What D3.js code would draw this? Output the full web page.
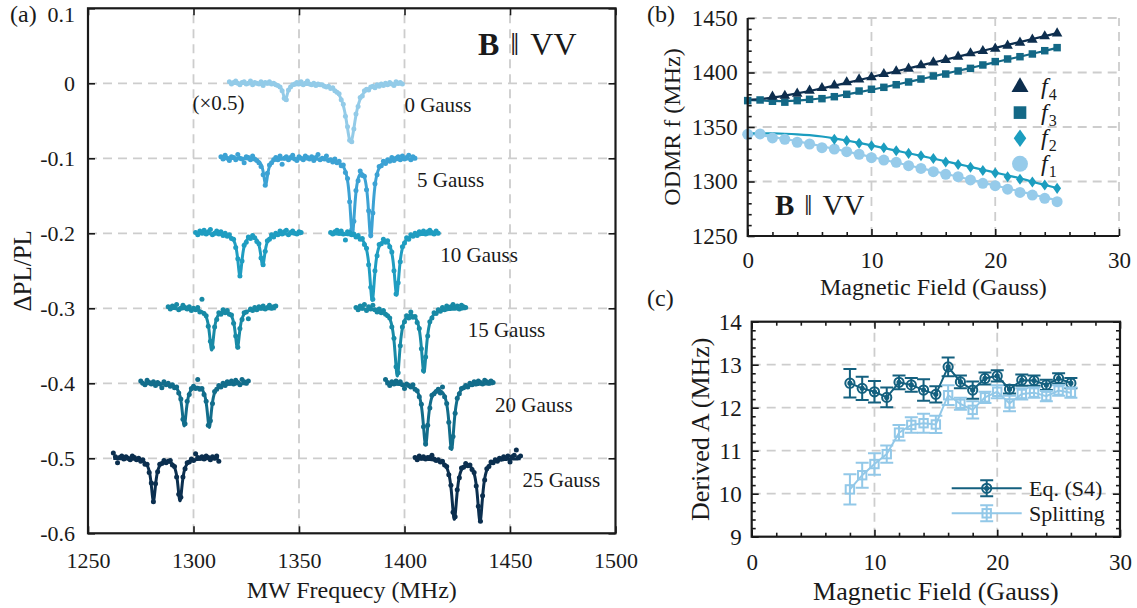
<!DOCTYPE html>
<html><head><meta charset="utf-8">
<script src="https://cdn.jsdelivr.net/npm/d3@7"></script>
<style>
body{margin:0;background:#fff;}
svg{display:block;}
svg text{font-family:"Liberation Serif","Times New Roman",serif;}
</style></head><body>
<svg id="fig" width="1137" height="608"></svg>
<script>
// ===================== Panel (a): ODMR spectra =====================
const fieldLabels = ["0 Gauss", "5 Gauss", "10 Gauss", "15 Gauss", "20 Gauss", "25 Gauss"];
const traceOffsets = [0, -0.1, -0.2, -0.3, -0.4, -0.5];
const traceColors = ["#93cbe8", "#3ca2d4", "#1f9dc1", "#188aa6", "#126d8b", "#0b2f4f"];

// measured points: [sweep start (MHz), ΔPL/PL in units of 1e-3 relative to the trace baseline], 1 MHz steps
const spectrum0G = [[1317, [2,-1,1,3,0,-2,1,2,-1,0, 3,-2,1,0,-1,2,-3,1,0,2, -1,0,-2,-3,-5,-10,-20,-22,-9,-5,
  -2,-1,1,-1,2,-2,0,3,-1,-2, 0,-3,-1,-2,-2,-4,-5,-4,-7,-6, -10,-12,-14,-22,-28,-44,-58,-76,-78,-61,
  -41,-31,-19,-17,-10,-8,-9,-5,-4,-6, -2,-4,-1,-3,0,-2,1,-1,-3,2, 0,1,-1]]];
const spectrum5G = [[1313, [2,-1,4,0,-3,2,1,-2,5,0, -1,-6,2,1,-2,3,-1,-3,-6,-11, -22,-36,-20,-9,-6,-2,1,-2,3,-8,
  0,2,-2,1,4,-1,-3,2,0,-2, 3,1,-1,2,-3,1,5,-2,0,-1, 3,-3,-2,-5,-1,-6,-4,-10,-9,-19,
  -27,-58,-95,-84,-43,-30,-17,-23,-24,-42, -70,-103,-73,-34,-22,-11,-10,-4,-7,-2, -4,1,-3,0,2,-2,3,-1,1,4, -2,2,0]]];
const spectrum10G = [
  [1301, [1,-2,3,0,4,-1,2,5,-2,0, 3,-1,2,-3,0,-4,-2,-7,-8,-19, -34,-57,-37,-16,-12,-5,-7,-3,-6,-11,
    -14,-33,-42,-24,-10,-8,-2,-5,0,-2, 3,-1,2,4,-2,1,3,0,-1,2, 1]],
  [1365, [1,-1,2,4,0,3,-1,-9,2,1, -2,-1,-5,-3,-8,-7,-15,-20,-42,-72, -88,-50,-30,-15,-14,-8,-12,-10,-18,-25,
    -50,-81,-66,-38,-18,-13,-6,-8,-2,-4, 0,-3,2,0,3,-1,2,4,1,-1, 3,0]]];
const spectrum15G = [
  [1288, [2,-1,3,1,5,-2,0,4,1,-1, 2,-3,0,-2,1,-5,12,-7,-10,-24, -44,-52,-25,-15,-6,-8,-2,-6,-3,-8,
    -9,-20,-37,-52,-27,-15,-6,-5,-14,-1, -3,1,-2,2,0,3,-1,1,4,0, 2,3]],
  [1377, [1,-2,3,0,5,-3,2,-1,4,-2, -5,-1,-6,-3,-8,-10,-13,-25,-40,-78, -86,-50,-25,-18,-10,-13,-5,-12,-11,-19,
    -27,-54,-83,-65,-37,-18,-13,-6,-7,-2, -4,1,-2,3,0,2,5,1,3,-1, 4,2,1]]];
const spectrum20G = [
  [1275, [3,0,-2,4,1,-1,2,-3,1,-1, -6,2,-2,0,-4,-2,-6,-5,-13,-21, -48,-54,-24,-15,-7,-4,-7,5,-8,-7,
    -15,-24,-56,-50,-27,-11,-8,-3,-5,0, -3,2,0,3,-1,4,1,-2,5,2, 0,3]],
  [1391, [5,1,-3,2,-1,3,0,2,-2,-7, -1,-3,-5,-2,-8,-10,-18,-28,-58,-81, -56,-33,-16,-14,-11,-8,-13,-5,-18,-27,
    -52,-86,-71,-40,-20,-14,-7,-6,-3,-5, 0,-2,2,-1,3,1,-1,4,2,0, 3,1]]];
const spectrum25G = [
  [1262, [7,2,-6,1,3,-1,2,0,-2,3, 1,-2,0,-4,-2,-8,-8,-19,-33,-58, -34,-18,-8,-7,-3,-6,-4,-3,-9,-11,
    -25,-48,-52,-25,-14,-6,-5,-1,-3,6, 1,0,2,-1,3,1,-2,2,0,3, -4]],
  [1405, [1,-2,3,0,2,-1,1,1,4,-1, -3,-2,-5,-4,-9,-11,-22,-36,-72,-78, -42,-26,-13,-12,-7,-10,-9,-15,-19,-37,
    -64,-84,-50,-29,-14,-11,-5,-6,-2,-4, 0,-1,2,0,3,-5,2,4,11,1, 3]]];

// Lorentzian fit parameters per trace: [centre (MHz), depth (1e-3), FWHM (MHz)]
const fit0G = [[1343.5, 22, 2.5], [1374.5, 78, 5.5]];
const fit5G = [[1334.2, 35, 2.4], [1375.3, 98, 2.9], [1384.0, 102, 2.9]];
const fit10G = [[1322.0, 56, 2.6], [1332.8, 42, 2.6], [1384.7, 88, 3.0], [1396.3, 81, 3.0]];
const fit15G = [[1308.6, 55, 2.6], [1320.8, 52, 2.6], [1396.6, 89, 3.0], [1409.2, 84, 3.0]];
const fit20G = [[1295.6, 56, 2.6], [1307.5, 58, 2.6], [1410.0, 81, 3.0], [1422.3, 87, 3.0]];
const fit25G = [[1281.0, 56, 2.6], [1293.6, 56, 2.6], [1423.6, 80, 3.0], [1435.8, 83, 3.0]];

const freqTicks = [1250, 1300, 1350, 1400, 1450, 1500];
const dplTicks = [0.1, 0, -0.1, -0.2, -0.3, -0.4, -0.5, -0.6];

// ===================== Panel (b): ODMR frequencies vs field =====================
const fieldB = [0,1,2,3,4,5,6,7,8,9,10,11,12,13,14,15,16,17,18,19,20,21,22,23,24,25];
const f1Data = [1343.3,1343.6,1340.0,1338.7,1336.0,1334.4,1331.0,1329.8,1327.4,1325.0,1321.9,1319.7,1317.6,
  1314.5,1312.0,1309.0,1306.6,1304.4,1301.4,1298.3,1296.2,1293.0,1290.0,1287.6,1284.6,1281.5];
const f2Field = [7,8,9,10,11,12,13,14,15,16,17,18,19,20,21,22,23,24,25];
const f2Data = [1338.7,1337.5,1335.0,1332.9,1331.0,1328.3,1325.8,1323.7,1321.0,1317.9,1315.7,1313.0,1310.0,
  1307.8,1304.4,1302.0,1299.5,1296.8,1293.7];
const f3Data = [1374.2,1374.8,1373.6,1372.8,1374.2,1375.4,1376.0,1377.8,1380.0,1383.0,1384.6,1386.4,1388.8,
  1391.3,1394.0,1396.8,1398.6,1401.4,1403.8,1406.9,1410.0,1412.4,1414.5,1417.0,1420.0,1422.8];
const f4Field = [2,3,4,5,6,7,8,9,10,11,12,13,14,15,16,17,18,19,20,21,22,23,24,25];
const f4Data = [1377.8,1378.7,1380.6,1383.3,1385.8,1388.2,1391.0,1393.7,1395.6,1398.6,1401.1,1403.5,1406.6,
  1409.3,1411.5,1414.5,1417.6,1419.7,1421.9,1424.6,1427.4,1430.1,1433.2,1435.9];
// fitted curves evaluated at fieldB
const fitF1 = [1343.6,1342.6,1341.0,1339.0,1336.9,1334.6,1332.3,1329.9,1327.5,1325.0,1322.5,1320.0,1317.4,
  1314.8,1312.2,1309.6,1307.0,1304.4,1301.7,1299.0,1296.3,1293.6,1290.9,1288.2,1285.4,1282.6];
const fitF2 = [1344.2,1344.2,1344.1,1343.8,1343.3,1342.5,1341.3,1339.6,1337.6,1335.4,1333.1,1330.7,1328.3,
  1325.9,1323.5,1321.0,1318.5,1316.0,1313.4,1310.8,1308.2,1305.6,1303.0,1299.8,1296.9,1294.0];
const fitF3 = [1374.8,1374.4,1373.9,1373.8,1374.2,1375.1,1376.4,1378.0,1379.9,1382.0,1384.2,1386.5,1388.9,
  1391.4,1393.9,1396.5,1399.0,1401.6,1404.2,1406.8,1409.4,1412.0,1414.6,1417.2,1419.8,1422.6];
const fitF4 = [1375.0,1375.6,1377.0,1378.8,1380.8,1383.0,1385.4,1387.9,1390.5,1393.1,1395.8,1398.5,1401.1,
  1403.8,1406.5,1409.2,1411.9,1414.6,1417.3,1420.0,1422.6,1425.3,1428.0,1430.7,1433.4,1436.1];
const fieldTicks = [0, 10, 20, 30];
const odmrTicks = [1250, 1300, 1350, 1400, 1450];

// ===================== Panel (c): derived hyperfine A =====================
const fieldC = [8,9,10,11,12,13,14,15,16,17,18,19,20,21,22,23,24,25,26];
const eqA = [12.57,12.45,12.37,12.24,12.59,12.53,12.41,12.31,12.95,12.60,12.41,12.68,12.74,12.43,12.64,12.63,12.53,12.68,12.57];
const eqErr = [0.33,0.27,0.25,0.23,0.16,0.16,0.25,0.19,0.22,0.15,0.20,0.14,0.13,0.10,0.13,0.12,0.12,0.12,0.12];
const splitA = [10.10,10.43,10.69,10.92,11.42,11.60,11.64,11.61,12.29,12.09,11.95,12.24,12.37,12.10,12.32,12.35,12.27,12.40,12.35];
const splitErr = [0.35,0.29,0.25,0.20,0.18,0.18,0.22,0.20,0.23,0.14,0.20,0.13,0.15,0.18,0.13,0.12,0.12,0.12,0.12];
const aTicks = [9, 10, 11, 12, 13, 14];

// ---------------------------------------------------------------
const INK = "#1a1a1a", GRID = "#cdcdcd";
const svg = d3.select("#fig");

function gridLines(g, xs, ys, x, y) {
  const [x0, x1] = x.range(), [y0, y1] = y.range();
  g.selectAll(null).data(xs).join("line")
    .attr("x1", d => x(d)).attr("x2", d => x(d)).attr("y1", y0).attr("y2", y1);
  g.selectAll(null).data(ys).join("line")
    .attr("y1", d => y(d)).attr("y2", d => y(d)).attr("x1", x0).attr("x2", x1);
  g.selectAll("line").attr("stroke", GRID).attr("stroke-width", 1.8).attr("stroke-dasharray", "9,6");
}
function styleAxis(g, size) {
  g.attr("font-family", null).attr("font-size", size);
  g.select(".domain").remove();
  g.selectAll(".tick line").attr("stroke", INK).attr("stroke-width", 1.6);
  g.selectAll(".tick text").attr("fill", INK);
  return g;
}
function minorRange(a, b, step, majors) {
  const out = [];
  for (let i = 0; a + i * step <= b + 1e-9; i++) {
    const v = +(a + i * step).toFixed(4);
    if (!majors.some(m => Math.abs(m - v) < 1e-6)) out.push(v);
  }
  return out;
}
// diamond marker with a wider aspect than d3.symbolDiamond
const wideDiamond = {
  draw(ctx, size) {
    const h = Math.sqrt(size / 1.45), w = h * 0.72;
    ctx.moveTo(0, -h); ctx.lineTo(w, 0); ctx.lineTo(0, h); ctx.lineTo(-w, 0); ctx.closePath();
  }
};
function parallelMark(text, gap) {
  // bold B, the parallel sign, then VV, with generous spacing
  text.append("tspan").attr("font-weight", "bold").text("B");
  text.append("tspan").attr("dx", gap).text("\u2016");
  text.append("tspan").attr("dx", gap).text("VV");
}

// ===================== draw (a) =====================
{
  const x = d3.scaleLinear().domain([1250, 1500]).range([88, 615.5]);
  const y = d3.scaleLinear().domain([-0.6, 0.1]).range([533.3, 8.3]);
  const g = svg.append("g");
  gridLines(g.append("g"), [1300, 1350, 1400, 1450], [0, -0.1, -0.2, -0.3, -0.4, -0.5], x, y);

  const spectra = [spectrum0G, spectrum5G, spectrum10G, spectrum15G, spectrum20G, spectrum25G];
  const fits = [fit0G, fit5G, fit10G, fit15G, fit20G, fit25G];
  const line = d3.line().x(d => x(d[0])).y(d => y(d[1]));

  spectra.forEach((segs, i) => {
    const off = traceOffsets[i], col = traceColors[i];
    const tg = g.append("g");
    let lastEnd = 0;
    segs.forEach(([start, vals]) => {
      const pts = vals.map((v, k) => [start + k, off + v / 1000]);
      tg.append("g").selectAll("circle").data(pts).join("circle")
        .attr("cx", d => x(d[0])).attr("cy", d => y(d[1])).attr("r", 2.5).attr("fill", col);
      const end = start + vals.length - 1;
      lastEnd = end;
      const model = d3.range(start, end + 0.001, 0.1).map(f =>
        [f, off - d3.sum(fits[i], ([c, dep, w]) => dep / 1000 / (1 + ((f - c) / (w / 2)) ** 2))]);
      tg.append("path").attr("d", line(model)).attr("fill", "none")
        .attr("stroke", col).attr("stroke-width", 3).attr("stroke-linejoin", "round");
    });
    g.append("text").attr("x", x(lastEnd) + 2).attr("y", y(off) + 29)
      .attr("font-size", 21).attr("fill", INK).text(fieldLabels[i]);
  });
  g.append("text").attr("x", x(1299.5)).attr("y", y(0) + 27).attr("font-size", 21).attr("fill", INK).text("(×0.5)");

  parallelMark(g.append("text").attr("x", 478).attr("y", 55).attr("font-size", 32).attr("fill", INK), 11);

  // frame and inward ticks
  styleAxis(g.append("g").attr("transform", "translate(0,533.3)")
    .call(d3.axisBottom(x).tickValues(freqTicks).tickSize(-7).tickPadding(19).tickFormat(d3.format("d"))), 22);
  styleAxis(g.append("g").attr("transform", "translate(0,8.3)")
    .call(d3.axisTop(x).tickValues(freqTicks).tickSize(-7).tickFormat("")), 22);
  const yl = styleAxis(g.append("g").attr("transform", "translate(88,0)")
    .call(d3.axisLeft(y).tickValues(dplTicks).tickSize(-7).tickPadding(13).tickFormat(d => String(d))), 22);
  yl.selectAll(".tick text").filter(d => d === 0.1).attr("dy", "0.6em");
  styleAxis(g.append("g").attr("transform", "translate(615.5,0)")
    .call(d3.axisRight(y).tickValues(dplTicks).tickSize(-7).tickFormat("")), 22);
  g.append("rect").attr("x", 88).attr("y", 8.3).attr("width", 615.5 - 88).attr("height", 533.3 - 8.3)
    .attr("fill", "none").attr("stroke", INK).attr("stroke-width", 2.2);

  g.append("text").attr("x", (88 + 615.5) / 2).attr("y", 598).attr("text-anchor", "middle")
    .attr("font-size", 24).attr("fill", INK).text("MW Frequecy (MHz)");
  g.append("text").attr("transform", `translate(22,${(8.3 + 533.3) / 2}) rotate(-90)`)
    .attr("text-anchor", "middle").attr("dominant-baseline", "central")
    .attr("font-size", 25).attr("fill", INK).text("ΔPL/PL");
  g.append("text").attr("x", 10).attr("y", 22).attr("font-size", 24).attr("fill", INK).text("(a)");
}

// ===================== draw (b) =====================
{
  const x = d3.scaleLinear().domain([0, 30]).range([747.7, 1119]);
  const y = d3.scaleLinear().domain([1250, 1450]).range([236, 18]);
  const g = svg.append("g");
  gridLines(g.append("g"), [10, 20, 30], [1300, 1350, 1400, 1450], x, y);

  const cF1 = "#96cbea", cF2 = "#1b9dbf", cF3 = "#136886", cF4 = "#0d2e4e";
  const line = d3.line().x(d => x(d[0])).y(d => y(d[1])).curve(d3.curveMonotoneX);
  const fitsB = [[fitF1, cF1], [fitF2, cF2], [fitF3, cF3], [fitF4, cF4]];
  fitsB.forEach(([arr, col]) => {
    g.append("path").attr("d", line(fieldB.map((f, k) => [f, arr[k]])))
      .attr("fill", "none").attr("stroke", col).attr("stroke-width", 2.2);
  });
  const sym = (type, size) => d3.symbol().type(type).size(size)();
  const series = [
    [fieldB, f1Data, cF1, d3.symbolCircle, 95],
    [f2Field, f2Data, cF2, wideDiamond, 44],
    [fieldB, f3Data, cF3, d3.symbolSquare, 56],
    [f4Field, f4Data, cF4, d3.symbolTriangle, 48]];
  series.forEach(([fx, fy, col, type, size]) => {
    g.append("g").selectAll("path").data(fx.map((f, k) => [f, fy[k]])).join("path")
      .attr("d", sym(type, size)).attr("fill", col)
      .attr("transform", d => `translate(${x(d[0])},${y(d[1])})`);
  });

  // legend
  const legendRows = [["4", cF4, d3.symbolTriangle, 125], ["3", cF3, d3.symbolSquare, 160],
                      ["2", cF2, wideDiamond, 110], ["1", cF1, d3.symbolCircle, 200]];
  legendRows.forEach(([sub, col, type, size], k) => {
    const ry = 87 + k * 25.6;
    g.append("path").attr("d", sym(type, size)).attr("fill", col).attr("transform", `translate(1020,${ry})`);
    const t = g.append("text").attr("x", 1041).attr("y", ry + 7).attr("font-size", 24).attr("fill", INK);
    t.append("tspan").attr("font-style", "italic").text("f");
    t.append("tspan").attr("font-size", 16).attr("dy", 6).attr("dx", 1).text(sub);
  });

  parallelMark(g.append("text").attr("x", 775).attr("y", 215).attr("font-size", 29).attr("fill", INK), 10);

  styleAxis(g.append("g").attr("transform", "translate(0,236)")
    .call(d3.axisBottom(x).tickValues(minorRange(0, 30, 2, fieldTicks)).tickSize(-4).tickFormat("")), 23);
  styleAxis(g.append("g").attr("transform", "translate(0,236)")
    .call(d3.axisBottom(x).tickValues(fieldTicks).tickSize(-7).tickPadding(16).tickFormat(d3.format("d"))), 23);
  styleAxis(g.append("g").attr("transform", "translate(747.7,0)")
    .call(d3.axisLeft(y).tickValues(minorRange(1250, 1450, 10, odmrTicks)).tickSize(-4).tickFormat("")), 23);
  styleAxis(g.append("g").attr("transform", "translate(747.7,0)")
    .call(d3.axisLeft(y).tickValues(odmrTicks).tickSize(-7).tickPadding(10).tickFormat(d3.format("d"))), 23);
  g.append("path").attr("d", "M747.7,18V236H1119").attr("fill", "none").attr("stroke", INK).attr("stroke-width", 2.2);

  g.append("text").attr("x", (747.7 + 1119) / 2).attr("y", 295).attr("text-anchor", "middle")
    .attr("font-size", 24).attr("fill", INK).text("Magnetic Field (Gauss)");
  g.append("text").attr("transform", `translate(672,${(18 + 236) / 2}) rotate(-90)`)
    .attr("text-anchor", "middle").attr("dominant-baseline", "central")
    .attr("font-size", 24).attr("fill", INK).text("ODMR f (MHz)");
  g.append("text").attr("x", 647).attr("y", 22).attr("font-size", 24).attr("fill", INK).text("(b)");
}

// ===================== draw (c) =====================
{
  const x = d3.scaleLinear().domain([0, 30]).range([751.7, 1120]);
  const y = d3.scaleLinear().domain([9, 14]).range([536.7, 321.7]);
  const g = svg.append("g");
  gridLines(g.append("g"), [10, 20], [10, 11, 12, 13], x, y);

  const cEq = "#14607f", cSp = "#92c8e8";
  const line = d3.line().x(d => x(d[0])).y(d => y(d[1]));
  const cap = 6.5;
  function errSeries(vals, errs, col, marker) {
    const pts = fieldC.map((f, k) => [f, vals[k], errs[k]]);
    const sg = g.append("g").attr("stroke", col).attr("fill", "none").attr("stroke-width", 2);
    sg.append("path").attr("d", line(pts));
    pts.forEach(([f, v, e]) => {
      const cx = x(f), yt = y(v + e), yb = y(v - e);
      sg.append("path").attr("d", `M${cx},${yt}V${yb}M${cx - cap},${yt}H${cx + cap}M${cx - cap},${yb}H${cx + cap}`);
      marker(sg, cx, y(v));
    });
  }
  const circleMark = (sg, cx, cy) => {
    sg.append("circle").attr("cx", cx).attr("cy", cy).attr("r", 4.6);
    sg.append("circle").attr("cx", cx).attr("cy", cy).attr("r", 1.6).attr("fill", sg.attr("stroke"));
  };
  const squareMark = (sg, cx, cy) => {
    sg.append("rect").attr("x", cx - 4.2).attr("y", cy - 4.2).attr("width", 8.4).attr("height", 8.4);
  };
  errSeries(eqA, eqErr, cEq, circleMark);
  errSeries(splitA, splitErr, cSp, squareMark);

  // legend
  const legendItems = [["Eq. (S4)", cEq, circleMark, 488.3], ["Splitting", cSp, squareMark, 513.3]];
  legendItems.forEach(([label, col, mk, ly]) => {
    const lg = g.append("g").attr("stroke", col).attr("fill", "none").attr("stroke-width", 2);
    const cx = 986.7;
    lg.append("path").attr("d", `M951.7,${ly}H1021.7M${cx},${ly - 8}V${ly + 8}M${cx - cap},${ly - 8}H${cx + cap}M${cx - cap},${ly + 8}H${cx + cap}`);
    mk(lg, cx, ly);
    g.append("text").attr("x", 1029).attr("y", ly + 8).attr("font-size", 22).attr("fill", INK).text(label);
  });

  styleAxis(g.append("g").attr("transform", "translate(0,536.7)")
    .call(d3.axisBottom(x).tickValues(minorRange(0, 30, 2, fieldTicks)).tickSize(-4).tickFormat("")), 23);
  styleAxis(g.append("g").attr("transform", "translate(0,536.7)")
    .call(d3.axisBottom(x).tickValues(fieldTicks).tickSize(-7).tickPadding(17).tickFormat(d3.format("d"))), 23);
  styleAxis(g.append("g").attr("transform", "translate(0,321.7)")
    .call(d3.axisTop(x).tickValues(minorRange(0, 30, 2, fieldTicks)).tickSize(-4).tickFormat("")), 23);
  styleAxis(g.append("g").attr("transform", "translate(0,321.7)")
    .call(d3.axisTop(x).tickValues(fieldTicks).tickSize(-7).tickFormat("")), 23);
  styleAxis(g.append("g").attr("transform", "translate(751.7,0)")
    .call(d3.axisLeft(y).tickValues(minorRange(9, 14, 0.2, aTicks)).tickSize(-4).tickFormat("")), 23);
  styleAxis(g.append("g").attr("transform", "translate(751.7,0)")
    .call(d3.axisLeft(y).tickValues(aTicks).tickSize(-7).tickPadding(10).tickFormat(d3.format("d"))), 23);
  styleAxis(g.append("g").attr("transform", "translate(1120,0)")
    .call(d3.axisRight(y).tickValues(minorRange(9, 14, 0.2, aTicks)).tickSize(-4).tickFormat("")), 23);
  styleAxis(g.append("g").attr("transform", "translate(1120,0)")
    .call(d3.axisRight(y).tickValues(aTicks).tickSize(-7).tickFormat("")), 23);
  g.append("rect").attr("x", 751.7).attr("y", 321.7).attr("width", 1120 - 751.7).attr("height", 536.7 - 321.7)
    .attr("fill", "none").attr("stroke", INK).attr("stroke-width", 2.2);

  g.append("text").attr("x", (751.7 + 1120) / 2).attr("y", 600).attr("text-anchor", "middle")
    .attr("font-size", 26).attr("fill", INK).text("Magnetic Field (Gauss)");
  g.append("text").attr("transform", `translate(700,${(321.7 + 536.7) / 2}) rotate(-90)`)
    .attr("text-anchor", "middle").attr("dominant-baseline", "central")
    .attr("font-size", 26).attr("fill", INK).text("Derived A (MHz)");
  g.append("text").attr("x", 647).attr("y", 306).attr("font-size", 24).attr("fill", INK).text("(c)");
}
</script>
</body></html>
